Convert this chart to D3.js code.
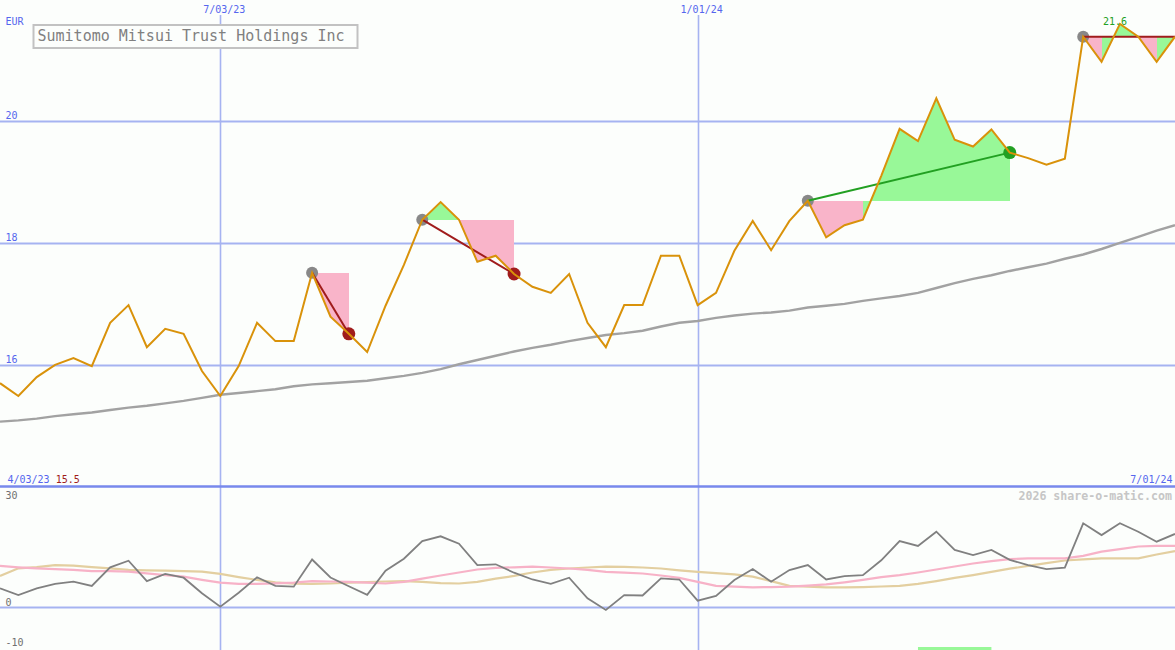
<!DOCTYPE html>
<html><head><meta charset="utf-8">
<script src="https://cdn.jsdelivr.net/npm/d3@7"></script>
<style>
html,body{margin:0;padding:0;background:#fcfefc;overflow:hidden}
svg{display:block}
text{font-family:"DejaVu Sans Mono","Liberation Mono",monospace}
</style></head><body><svg id="c" width="1175" height="650"></svg>
<script>
const title = "Sumitomo Mitsui Trust Holdings Inc";
const currency = "EUR";
const startLabel = "4/03/23";
const endLabel = "7/01/24";
const watermark = "2026 share-o-matic.com";
const dateTickIdx = [12, 38];
const dateTickLabels = ["7/03/23", "1/01/24"];
const priceTicks = [16, 18, 20];
const oscTicks = [30, 0, -10];

const price = [15.71, 15.50, 15.81, 16.01, 16.12, 15.99, 16.70, 16.99, 16.30, 16.60,
  16.52, 15.91, 15.50, 15.99, 16.70, 16.40, 16.40, 17.52, 16.80, 16.52,
  16.22, 16.98, 17.65, 18.39, 18.68, 18.39, 17.70, 17.80, 17.50, 17.29,
  17.19, 17.50, 16.70, 16.30, 16.99, 16.99, 17.80, 17.80, 16.99, 17.19,
  17.88, 18.37, 17.89, 18.37, 18.70, 18.10, 18.30, 18.39, 19.11, 19.88,
  19.68, 20.38, 19.70, 19.59, 19.87, 19.49, 19.40, 19.29, 19.39, 21.39,
  20.98, 21.60, 21.39, 20.98, 21.39];

const priceMA = [15.08, 15.10, 15.13, 15.17, 15.20, 15.23, 15.27, 15.31, 15.34, 15.38,
  15.42, 15.47, 15.52, 15.55, 15.58, 15.61, 15.66, 15.69, 15.71, 15.73,
  15.75, 15.79, 15.83, 15.88, 15.94, 16.02, 16.09, 16.16, 16.23, 16.29,
  16.34, 16.40, 16.45, 16.50, 16.53, 16.57, 16.64, 16.70, 16.73, 16.78,
  16.82, 16.85, 16.87, 16.90, 16.95, 16.98, 17.01, 17.06, 17.10, 17.14,
  17.19, 17.27, 17.35, 17.42, 17.48, 17.55, 17.61, 17.67, 17.75, 17.82,
  17.91, 18.01, 18.11, 18.21, 18.30];

const osc = [4.8, 3.1, 4.8, 5.9, 6.45, 5.4, 10.05, 11.7, 6.6, 8.4,
  7.45, 3.55, 0.2, 3.7, 7.55, 5.4, 5.2, 12.0, 7.5, 5.3,
  3.15, 9.2, 12.2, 16.6, 17.8, 15.95, 10.6, 10.8, 8.7, 7.0,
  5.9, 7.45, 2.3, -0.6, 3.1, 3.0, 7.3, 7.0, 1.7, 2.9,
  6.85, 9.6, 6.45, 9.35, 10.6, 7.0, 7.85, 8.1, 11.8, 16.6,
  15.4, 18.95, 14.4, 13.1, 14.4, 11.9, 10.6, 9.6, 9.95, 21.05,
  18.1, 21.05, 18.95, 16.45, 18.4];

const oscPink = [10.4, 10.05, 9.8, 9.6, 9.4, 9.1, 9.1, 8.95, 8.55, 8.1,
  7.7, 6.9, 6.2, 5.9, 5.9, 6.05, 6.2, 6.6, 6.5, 6.4,
  6.2, 6.0, 6.4, 7.2, 8.0, 8.75, 9.5, 9.9, 10.05, 10.2,
  10.0, 9.75, 9.4, 8.9, 8.7, 8.5, 8.0, 7.4, 6.4, 5.4,
  5.2, 5.05, 5.1, 5.2, 5.45, 5.8, 6.3, 6.9, 7.6, 8.1,
  8.75, 9.5, 10.25, 11.0, 11.6, 12.1, 12.3, 12.3, 12.3, 12.9,
  13.95, 14.6, 15.25, 15.4, 15.4];

const oscTan = [7.9, 9.8, 10.1, 10.6, 10.45, 10.1, 9.8, 9.4, 9.3, 9.2,
  9.1, 8.95, 8.4, 7.6, 6.9, 6.3, 5.95, 5.9, 6.0, 6.2,
  6.35, 6.5, 6.6, 6.4, 6.1, 6.0, 6.4, 7.2, 7.9, 8.75,
  9.4, 9.75, 10.0, 10.2, 10.15, 10.0, 9.75, 9.3, 8.9, 8.6,
  8.3, 7.7, 6.6, 5.4, 5.2, 5.05, 5.05, 5.1, 5.25, 5.4,
  5.9, 6.6, 7.4, 8.1, 8.9, 9.7, 10.4, 11.1, 11.75, 12.05,
  12.3, 12.3, 12.3, 13.25, 14.1];

const signalEntry = [17, 23, 44, 59];
const signalExit = [19, 28, 55, 64];
const signalOutcome = ["loss", "loss", "gain", "open"];
const holdBar = [50, 54];

const W = 1175, H = 650;
const svg = d3.select("#c");
const x = d3.scaleLinear().domain([0, price.length - 1]).range([0, W]);
const yP = d3.scaleLinear().domain([14, 22]).range([487.5, -0.5]);
const yO = d3.scaleLinear().domain([-10, 30]).range([647.5, 487.5]);

const C = {bg:"#fcfefc", grid:"#a6b3f1", sep:"#7889ec", label:"#5566ee", price:"#d9920a",
  ma:"#a2a2a2", pink:"#f9b4c9", green:"#98f898", red:"#a01c1c", gain:"#22a022",
  dot:"#888888", osc:"#808080", oscPink:"#f7b2c7", oscTan:"#e3cfa0"};

svg.append("rect").attr("width", W).attr("height", H).attr("fill", C.bg);

// horizontal price gridlines
svg.append("g").selectAll("line").data(priceTicks).join("line")
  .attr("x1", 0).attr("x2", W).attr("y1", d => yP(d)).attr("y2", d => yP(d))
  .attr("stroke", C.grid).attr("stroke-width", 2);
// vertical date gridlines
svg.append("g").selectAll("line").data(dateTickIdx).join("line")
  .attr("x1", d => Math.round(x(d)) + 0.5).attr("x2", d => Math.round(x(d)) + 0.5)
  .attr("y1", 15).attr("y2", H)
  .attr("stroke", C.grid).attr("stroke-width", 1.6);
// lower zero line
svg.append("line").attr("x1", 0).attr("x2", W).attr("y1", yO(0)).attr("y2", yO(0))
  .attr("stroke", C.grid).attr("stroke-width", 2);
// separator
svg.append("line").attr("x1", 0).attr("x2", W).attr("y1", yO(30) - 1).attr("y2", yO(30) - 1)
  .attr("stroke", C.sep).attr("stroke-width", 2.6);

// moving average
const lineP = d3.line().x((d, i) => x(i)).y(d => yP(d));
svg.append("path").attr("d", lineP(priceMA)).attr("fill", "none")
  .attr("stroke", C.ma).attr("stroke-width", 2.4);

// signal fills
const gFill = svg.append("g").attr("shape-rendering", "crispEdges");
signalEntry.forEach((e, k) => {
  const level = price[e];
  const area = d3.area().x(i => x(i)).y0(yP(level)).y1(i => yP(price[i]));
  for (let i = e; i < signalExit[k]; i++) {
    gFill.append("path").attr("d", area([i, i + 1]))
      .attr("fill", price[i + 1] >= level ? C.green : C.pink);
  }
});

// entry dots
svg.append("g").selectAll("circle").data(signalEntry).join("circle")
  .attr("cx", d => x(d)).attr("cy", d => yP(price[d])).attr("r", 6).attr("fill", C.dot);

// signal lines
svg.append("g").selectAll("line").data(signalEntry).join("line")
  .attr("x1", d => x(d)).attr("y1", d => yP(price[d]))
  .attr("x2", (d, k) => x(signalExit[k])).attr("y2", (d, k) => yP(price[signalExit[k]]))
  .attr("stroke", (d, k) => signalOutcome[k] === "gain" ? C.gain : C.red)
  .attr("stroke-width", 2);

// exit dots
svg.append("g").selectAll("circle")
  .data(signalExit.map((d, k) => ({i: d, o: signalOutcome[k]})).filter(d => d.o !== "open"))
  .join("circle")
  .attr("cx", d => x(d.i)).attr("cy", d => yP(price[d.i])).attr("r", 6.5)
  .attr("fill", d => d.o === "gain" ? C.gain : C.red);

// price line
svg.append("path").attr("d", lineP(price)).attr("fill", "none")
  .attr("stroke", C.price).attr("stroke-width", 2).attr("stroke-linejoin", "miter");

// lower panel
const lineO = d3.line().x((d, i) => x(i)).y(d => yO(d));
svg.append("path").attr("d", lineO(oscTan)).attr("fill", "none").attr("stroke", C.oscTan).attr("stroke-width", 2.2);
svg.append("path").attr("d", lineO(oscPink)).attr("fill", "none").attr("stroke", C.oscPink).attr("stroke-width", 2.2);
svg.append("path").attr("d", lineO(osc)).attr("fill", "none").attr("stroke", C.osc).attr("stroke-width", 1.8);

// hold bar at bottom
svg.append("rect").attr("x", x(holdBar[0])).attr("width", x(holdBar[1]) - x(holdBar[0]))
  .attr("y", yO(-10) - 0.5).attr("height", 3).attr("fill", C.green);

// labels
const fs = 10;
svg.append("g").selectAll("text").data(priceTicks).join("text")
  .attr("x", 5.5).attr("y", d => yP(d) - 2.5).attr("font-size", fs).attr("fill", C.label).text(d => d);
svg.append("text").attr("x", 5.5).attr("y", 25).attr("font-size", fs).attr("fill", C.label).text(currency);
svg.append("g").selectAll("text").data(dateTickIdx).join("text")
  .attr("x", d => x(d) + 4).attr("y", 13).attr("text-anchor", "middle")
  .attr("font-size", fs).attr("fill", C.label).text((d, k) => dateTickLabels[k]);

const minV = d3.min(price), maxV = d3.max(price), iMax = price.indexOf(maxV);
const bl = svg.append("text").attr("x", 7.5).attr("y", 483).attr("font-size", fs);
bl.append("tspan").attr("fill", C.label).text(startLabel + " ");
bl.append("tspan").attr("fill", C.red).text(minV.toFixed(1));
svg.append("text").attr("x", W - 2.5).attr("y", 483).attr("text-anchor", "end")
  .attr("font-size", fs).attr("fill", C.label).text(endLabel);
svg.append("text").attr("x", x(iMax) - 5).attr("y", yP(maxV) + 1).attr("text-anchor", "middle")
  .attr("font-size", fs).attr("fill", C.gain).text(maxV.toFixed(1));

svg.append("g").selectAll("text").data(oscTicks).join("text")
  .attr("x", 5.5).attr("y", d => d === 30 ? 499 : yO(d) - 2).attr("font-size", fs)
  .attr("fill", "#707070").text(d => d);

svg.append("text").attr("x", W - 3).attr("y", 499.5).attr("text-anchor", "end")
  .attr("font-size", 11.6).attr("font-weight", "bold").attr("fill", "#c6c6c6").text(watermark);

// title box
svg.append("rect").attr("x", 33.5).attr("y", 25).attr("width", 324).attr("height", 23)
  .attr("fill", C.bg).attr("stroke", "#c2c2c2").attr("stroke-width", 2);
svg.append("text").attr("x", 37.5).attr("y", 41).attr("font-size", 15).attr("fill", "#808080").text(title);
</script></body></html>
